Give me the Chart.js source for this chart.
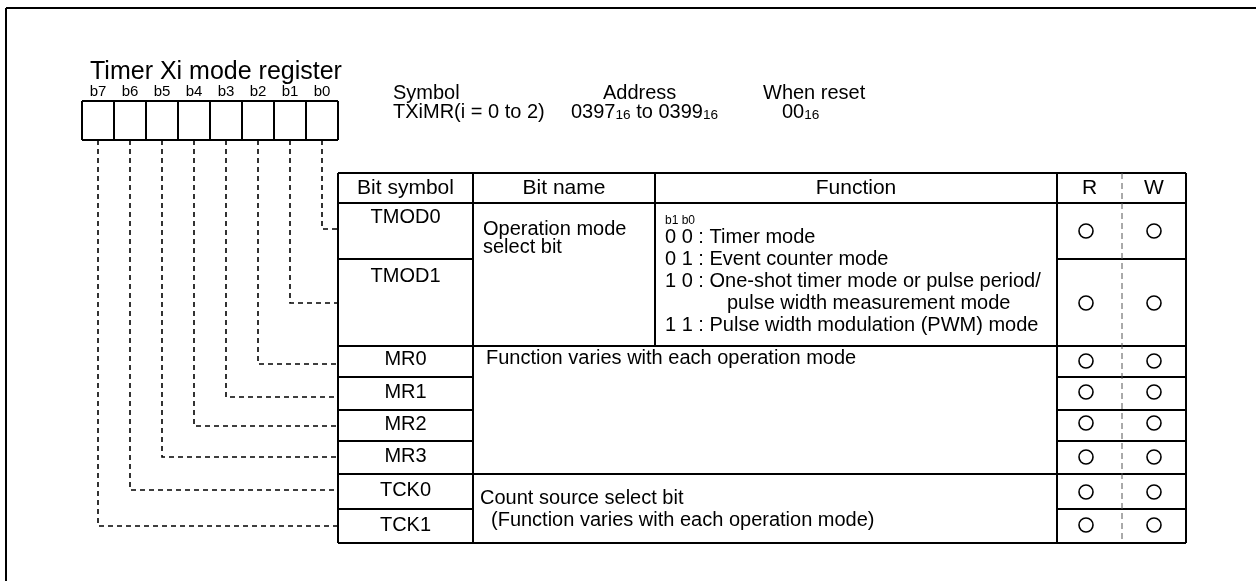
<!DOCTYPE html>
<html>
<head>
<meta charset="utf-8">
<script src="https://cdn.jsdelivr.net/npm/chart.js@4.4.1/dist/chart.umd.min.js"></script>
<style>
  html, body { margin: 0; padding: 0; background: #fff; }
  #grafico { display: block; }
</style>
</head>
<body>
<canvas id="grafico" width="1256" height="581"></canvas>
<script>
// Datos del registro
var titulo = 'Timer Xi mode register';
var bitLabels = ['b7', 'b6', 'b5', 'b4', 'b3', 'b2', 'b1', 'b0'];
var bitSymbols = ['TMOD0', 'TMOD1', 'MR0', 'MR1', 'MR2', 'MR3', 'TCK0', 'TCK1'];
var headers = ['Bit symbol', 'Bit name', 'Function', 'R', 'W'];
var readable = [true, true, true, true, true, true, true, true];
var writable = [true, true, true, true, true, true, true, true];
var bitNameTMOD = ['Operation mode', 'select bit'];
var funcTMOD = ['0 0 : Timer mode', '0 1 : Event counter mode',
  '1 0 : One-shot timer mode or pulse period/', 'pulse width measurement mode',
  '1 1 : Pulse width modulation (PWM) mode'];
var funcMR = 'Function varies with each operation mode';
var funcTCK = ['Count source select bit', '(Function varies with each operation mode)'];

// Disposición (coordenadas de la escala)
var FONT = '"Liberation Sans", Arial, sans-serif';
var boxLeft = 82, boxTop = 101, boxBottom = 140, cellW = 32;
var colX = [338, 473, 655, 1057, 1122, 1186];   // table columns
var rowY = [173, 203, 259, 346, 377, 410, 441, 474, 509, 543]; // header top .. bottom
var leaderY = [229, 303, 364, 397, 426, 457, 490, 526]; // TMOD0..TCK1
var labelY = [217, 276, 359, 392, 424, 456, 490, 525];
var circleY = [231, 303, 361, 392, 423, 457, 492, 525];

function bitCenter(i) { return boxLeft + cellW * i + cellW / 2; }

// líneas guía: la fila k corresponde al bit k (b0 -> TMOD0), casilla 7-k
var datasets = [];
bitSymbols.forEach(function(s, k) {
  var cx = bitCenter(7 - k);
  datasets.push({
    type: 'line',
    data: [{x: cx, y: boxBottom}, {x: cx, y: leaderY[k]}, {x: colX[0], y: leaderY[k]}],
    borderColor: '#000', borderWidth: 1.6, borderDash: [5, 4],
    pointRadius: 0, fill: false, tension: 0, clip: false
  });
});
var rPts = [], wPts = [];
bitSymbols.forEach(function(s, k) {
  if (readable[k]) rPts.push({x: 1086, y: circleY[k]});
  if (writable[k]) wPts.push({x: 1154, y: circleY[k]});
});
[rPts, wPts].forEach(function(pts) {
  datasets.push({
    type: 'scatter', data: pts, pointStyle: 'circle', pointRadius: 7,
    pointBorderWidth: 1.6, pointBorderColor: '#000', pointBackgroundColor: 'rgba(0,0,0,0)',
    clip: false
  });
});

var dibujo = {
  id: 'dibujo',
  beforeDatasetsDraw: function(chart) {
    var ctx = chart.ctx;
    var X = function(v) { return chart.scales.x.getPixelForValue(v); };
    var Y = function(v) { return chart.scales.y.getPixelForValue(v); };
    function line(x1, y1, x2, y2, w, color, dash) {
      ctx.save();
      ctx.beginPath();
      ctx.strokeStyle = color || '#000';
      ctx.lineWidth = w || 2;
      ctx.setLineDash(dash || []);
      ctx.moveTo(X(x1), Y(y1));
      ctx.lineTo(X(x2), Y(y2));
      ctx.stroke();
      ctx.restore();
    }
    function text(t, x, y, size, align) {
      ctx.font = size + 'px ' + FONT;
      ctx.fillStyle = '#000';
      ctx.textAlign = align || 'left';
      ctx.textBaseline = 'middle';
      ctx.fillText(t, X(x), Y(y));
    }
    function rich(parts, x, y, size) {
      var cx = X(x);
      ctx.textAlign = 'left';
      ctx.textBaseline = 'middle';
      ctx.fillStyle = '#000';
      parts.forEach(function(p) {
        var sz = p[1] ? size * 0.68 : size;
        ctx.font = sz + 'px ' + FONT;
        ctx.fillText(p[0], cx, Y(y) + (p[1] ? 3 : 0));
        cx += ctx.measureText(p[0]).width;
      });
    }

    // marco exterior
    line(6, 8, 1256, 8, 2);
    line(6, 8, 6, 581, 2);

    text(titulo, 90, 72, 25);

    // casillas de bits
    bitLabels.forEach(function(b, i) { text(b, bitCenter(i), 92, 15, 'center'); });
    line(boxLeft, boxTop, boxLeft + cellW * 8, boxTop, 2);
    line(boxLeft, boxBottom, boxLeft + cellW * 8, boxBottom, 2);
    for (var i = 0; i <= 8; i++) line(boxLeft + cellW * i, boxTop, boxLeft + cellW * i, boxBottom, 2);

    // símbolo / dirección / reset
    text('Symbol', 393, 93, 20);
    text('Address', 603, 93, 20);
    text('When reset', 763, 93, 20);
    rich([['TXiMR(i = 0 to 2)', false]], 393, 112, 20);
    rich([['0397', false], ['16', true], [' to 0399', false], ['16', true]], 571, 112, 20);
    rich([['00', false], ['16', true]], 782, 112, 20);

    // tabla
    var TL = colX[0], TR = colX[5];
    var full = [0, 1, 3, 7, 9];
    rowY.forEach(function(y, r) {
      if (full.indexOf(r) >= 0) line(TL, y, TR, y, 2);
      else { line(TL, y, colX[1], y, 2); line(colX[3], y, TR, y, 2); }
    });
    [0, 1, 3, 5].forEach(function(c) { line(colX[c], rowY[0], colX[c], rowY[9], 2); });
    line(colX[2], rowY[0], colX[2], rowY[3], 2);
    line(colX[4], rowY[0], colX[4], rowY[9], 1, '#555', [6, 4]);

    var hc = [(colX[0] + colX[1]) / 2, (colX[1] + colX[2]) / 2, (colX[2] + colX[3]) / 2,
              (colX[3] + colX[4]) / 2, (colX[4] + colX[5]) / 2];
    headers.forEach(function(h, i) { text(h, hc[i], 188, 21, 'center'); });
    bitSymbols.forEach(function(s, k) { text(s, hc[0], labelY[k], 20, 'center'); });

    text(bitNameTMOD[0], 483, 229, 20);
    text(bitNameTMOD[1], 483, 247, 20);
    text('b1 b0', 665, 221, 12);
    var fy = [237, 259, 281, 303, 325];
    var fx = [665, 665, 665, 727, 665];
    funcTMOD.forEach(function(t, i) { text(t, fx[i], fy[i], 20); });
    text(funcMR, 486, 358, 20);
    text(funcTCK[0], 480, 498, 20);
    text(funcTCK[1], 491, 520, 20);
  }
};

var ctx = document.getElementById('grafico').getContext('2d');
var grafico = new Chart(ctx, {
  type: 'scatter',
  data: { datasets: datasets },
  options: {
    responsive: false,
    animation: false,
    layout: { padding: 0, autoPadding: false },
    plugins: { legend: { display: false }, tooltip: { enabled: false } },
    scales: {
      x: { type: 'linear', min: 0, max: 1256, display: false },
      y: { type: 'linear', min: 0, max: 581, reverse: true, display: false }
    }
  },
  plugins: [dibujo]
});
</script>
</body>
</html>
